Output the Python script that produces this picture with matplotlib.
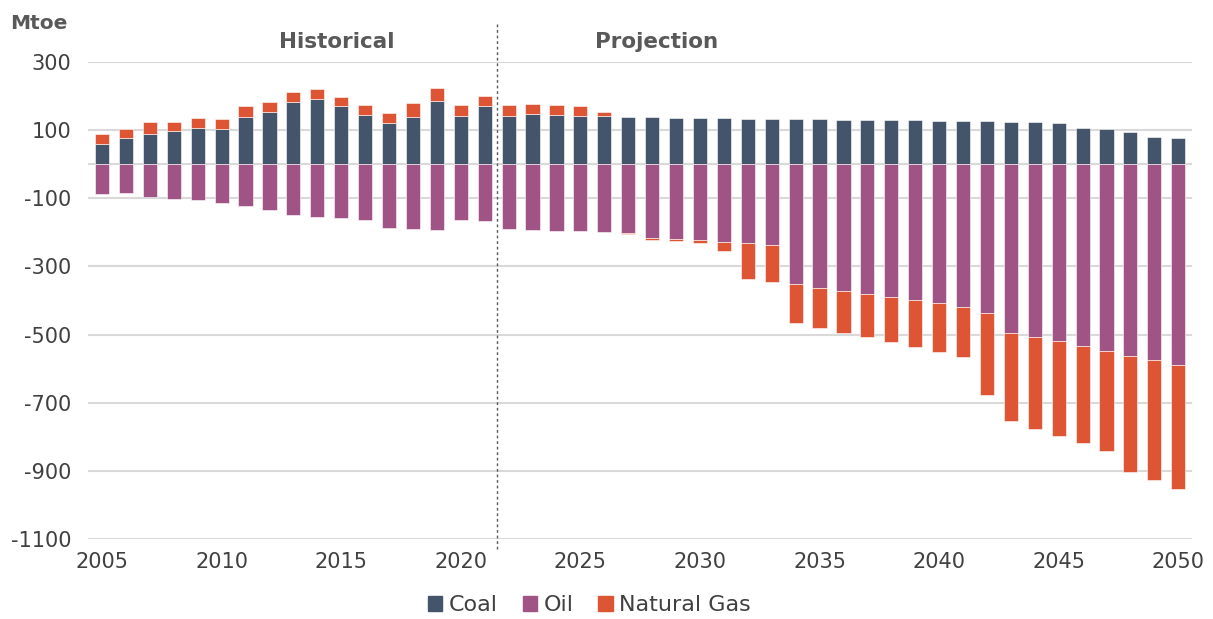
import numpy as np
import matplotlib.pyplot as plt
from matplotlib.patches import Patch

YEARS = list(range(2005, 2051))

COAL = [59, 76, 90, 98, 106, 103, 140, 153, 183, 191, 171, 145, 121, 140, 186, 143, 171,
        143, 146, 144, 143, 141, 139, 138, 137, 136, 135, 134, 133, 133, 132, 131, 130,
        130, 129, 128, 127, 126, 125, 124, 122, 106, 104, 94, 81, 78]

OIL = [-87, -85, -95, -101, -105, -113, -123, -134, -149, -155, -157, -164, -186, -189,
       -193, -164, -166,
       -191, -193, -195, -197, -199, -202, -216, -220, -223, -227, -231, -237, -352, -362,
       -371, -380, -390, -399, -408, -418, -437, -496, -508, -520, -534, -549, -562, -575,
       -590]

GAS = [29, 28, 33, 26, 30, 31, 30, 29, 28, 31, 27, 28, 28, 39, 37, 32, 30,
       30, 30, 30, 29, 13, -4, -6, -5, -7, -27, -106, -109, -113, -118, -124, -128, -132,
       -137, -143, -148, -241, -259, -268, -277, -285, -292, -342, -352, -363]

Y_TICKS = [300, 100, -100, -300, -500, -700, -900, -1100]
X_TICKS = [2005, 2010, 2015, 2020, 2025, 2030, 2035, 2040, 2045, 2050]

COAL_COLOR = "#44546A"
OIL_COLOR = "#A05485"
GAS_COLOR = "#DE5535"
TEXT_COLOR = "#595959"

plt.rcParams["font.family"] = ["DejaVu Sans"]
plt.rcParams["axes.unicode_minus"] = False

fig = plt.figure(figsize=(12.13, 6.19), dpi=100)
ax = fig.add_axes([0.0725, 0.1292, 0.9105, 0.7706])

years = np.array(YEARS)
coal = np.array(COAL, dtype=float)
oil = np.array(OIL, dtype=float)
gas = np.array(GAS, dtype=float)

# gas sits on top of coal when positive, below oil when negative
gas_bottom = np.where(gas >= 0, coal, oil)

width = 0.59
edge = dict(edgecolor="white", linewidth=0.4)
ax.bar(years, coal, width, color=COAL_COLOR, zorder=3, **edge)
ax.bar(years, oil, width, color=OIL_COLOR, zorder=3, **edge)
ax.bar(years, gas, width, bottom=gas_bottom, color=GAS_COLOR, zorder=3, **edge)

ax.set_xlim(2004.41, 2050.59)
ax.set_ylim(-1100, 300)
ax.set_yticks(Y_TICKS)
ax.set_xticks(X_TICKS)
ax.grid(True, axis="y", color="#D9D9D9", linewidth=1.5, zorder=0)
ax.axhline(0, color="#D9D9D9", linewidth=1.5, zorder=1)
for s in ax.spines.values():
    s.set_visible(False)
ax.tick_params(axis="both", length=0, labelsize=15, colors="#404040")
ax.tick_params(axis="y", pad=12)
ax.tick_params(axis="x", pad=9)

# divider between historical and projection
ax.plot([2021.5, 2021.5], [-1130, 415], ls=(0, (2, 2)), color="#595959",
        linewidth=1, clip_on=False, zorder=4)

ax.text(2014.8, 360, "Historical", ha="center", va="center", fontsize=15.5,
        fontweight="bold", color=TEXT_COLOR)
ax.text(2028.2, 360, "Projection", ha="center", va="center", fontsize=15.5,
        fontweight="bold", color=TEXT_COLOR)
fig.text(0.008, 0.962, "Mtoe", ha="left", va="center", fontsize=14.5,
         fontweight="bold", color=TEXT_COLOR)

handles = [Patch(color=COAL_COLOR, label="Coal"),
           Patch(color=OIL_COLOR, label="Oil"),
           Patch(color=GAS_COLOR, label="Natural Gas")]
fig.legend(handles=handles, loc="center", bbox_to_anchor=(0.486, 0.022), ncol=3,
           frameon=False, fontsize=16, handlelength=0.65, handleheight=0.65,
           handletextpad=0.3, columnspacing=1.1, labelcolor="#404040")

fig.savefig("out.png", dpi=100)
